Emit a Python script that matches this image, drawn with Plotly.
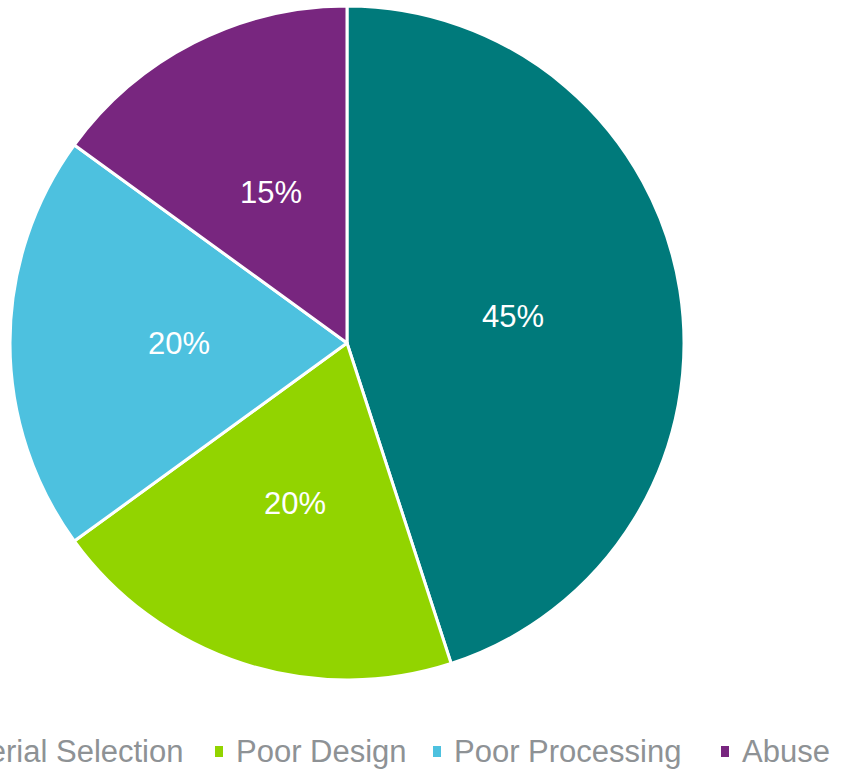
import math
import plotly.graph_objects as go

categories = ["Poor Material Selection", "Poor Design", "Poor Processing", "Abuse"]
values = [45, 20, 20, 15]
colors = ["#007A7B", "#92D400", "#4DC1DF", "#78267F"]

W, H = 843, 770
cx, cy, r = 347, 343, 337
FONT = "Liberation Sans, Arial, sans-serif"

fig = go.Figure(go.Pie(
    labels=categories,
    values=values,
    sort=False,
    direction="clockwise",
    rotation=0,
    marker=dict(colors=colors, line=dict(color="white", width=3)),
    textinfo="none",
    domain=dict(x=[(cx - r) / W, (cx + r) / W], y=[1 - (cy + r) / H, 1 - (cy - r) / H]),
    showlegend=False,
    hoverinfo="label+percent",
))

annots = []
# data labels at half radius along each slice bisector (Excel style)
total = sum(values)
cum = 0
for v in values:
    mid = (cum + v / 2) / total * 2 * math.pi
    cum += v
    px = cx + 0.5 * r * math.sin(mid)
    py = cy - 0.5 * r * math.cos(mid)
    annots.append(dict(x=px / W, y=1 - py / H, xref="paper", yref="paper",
                       xanchor="center", yanchor="middle", showarrow=False,
                       text=f"{round(v / total * 100)}%",
                       font=dict(family=FONT, size=31, color="white")))

# manual legend (the original is cut off on the left)
legend_x = [-75, 234, 452, 740]  # text left edge in px
legend_y = 751
shapes = []
for i, (name, col, lx) in enumerate(zip(categories, colors, legend_x)):
    shapes.append(dict(type="rect", xref="paper", yref="paper",
                       x0=(lx - 19) / W, x1=(lx - 11) / W,
                       y0=1 - (legend_y + 6) / H, y1=1 - (legend_y - 5) / H,
                       fillcolor=col, line=dict(width=0)))
    a = dict(x=lx / W, y=1 - legend_y / H, xref="paper", yref="paper",
             xanchor="left", yanchor="middle", showarrow=False,
             text=name,
             font=dict(family=FONT, size=31, color="#8E9295"))
    if i == 0:
        a.update(x=186 / W, xanchor="right")
    annots.append(a)

shapes[0].update(x0=-400 / W, x1=-392 / W)

fig.update_layout(
    width=W, height=H,
    margin=dict(l=0, r=0, t=0, b=0),
    paper_bgcolor="white", plot_bgcolor="white",
    shapes=shapes, annotations=annots,
)

fig.write_html("out.html")
